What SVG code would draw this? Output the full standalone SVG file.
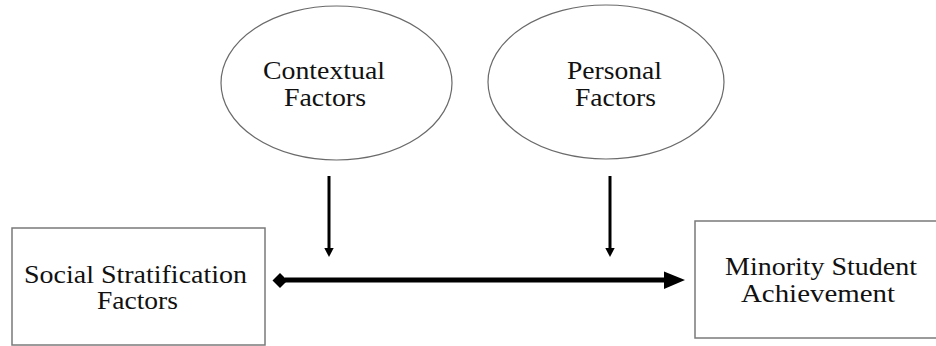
<svg xmlns="http://www.w3.org/2000/svg" width="936" height="346" viewBox="0 0 936 346">
<style>
.box{fill:#fff;stroke:#7a7a7a;stroke-width:1.5}
.ell{fill:#fff;stroke:#6a6a6a;stroke-width:1.2}
.t{font-family:"Liberation Serif","Times New Roman",serif;font-size:25px;fill:#111;text-anchor:middle}
.thin{stroke:#000;stroke-width:3;fill:none}
.thick{stroke:#000;stroke-width:5;fill:none}
</style>
<rect width="936" height="346" fill="#fff"/>
<g id="contextual">
<ellipse class="ell" cx="336.5" cy="83" rx="115.5" ry="77"/>
<text class="t" x="324" y="79" textLength="122" lengthAdjust="spacingAndGlyphs">Contextual</text>
<text class="t" x="325" y="106" textLength="82" lengthAdjust="spacingAndGlyphs">Factors</text>
</g>
<g id="personal">
<ellipse class="ell" cx="606" cy="82" rx="118" ry="77"/>
<text class="t" x="614.5" y="79" textLength="95" lengthAdjust="spacingAndGlyphs">Personal</text>
<text class="t" x="615.5" y="106" textLength="81" lengthAdjust="spacingAndGlyphs">Factors</text>
</g>
<g id="social">
<rect class="box" x="12" y="228" width="253" height="117"/>
<text class="t" x="135.5" y="283" textLength="223" lengthAdjust="spacingAndGlyphs">Social Stratification</text>
<text class="t" x="137.5" y="309" textLength="81" lengthAdjust="spacingAndGlyphs">Factors</text>
</g>
<g id="minority">
<rect class="box" x="695" y="221" width="250" height="117"/>
<text class="t" x="821" y="275" textLength="192" lengthAdjust="spacingAndGlyphs">Minority Student</text>
<text class="t" x="818" y="302" textLength="154" lengthAdjust="spacingAndGlyphs">Achievement</text>
</g>
<g id="connectors">
<line class="thick" x1="285" y1="280" x2="666" y2="280"/>
<polygon points="272.5,280.5 280,273 287.5,280.5 280,288" fill="#000"/>
<polygon points="664,271.5 685,280 664,289" fill="#000"/>
<line class="thin" x1="329" y1="176" x2="329" y2="249"/>
<polygon points="324.3,248 333.7,248 329,257" fill="#000"/>
<line class="thin" x1="610" y1="176" x2="610" y2="249"/>
<polygon points="605.3,248 614.7,248 610,257" fill="#000"/>
</g>
</svg>
